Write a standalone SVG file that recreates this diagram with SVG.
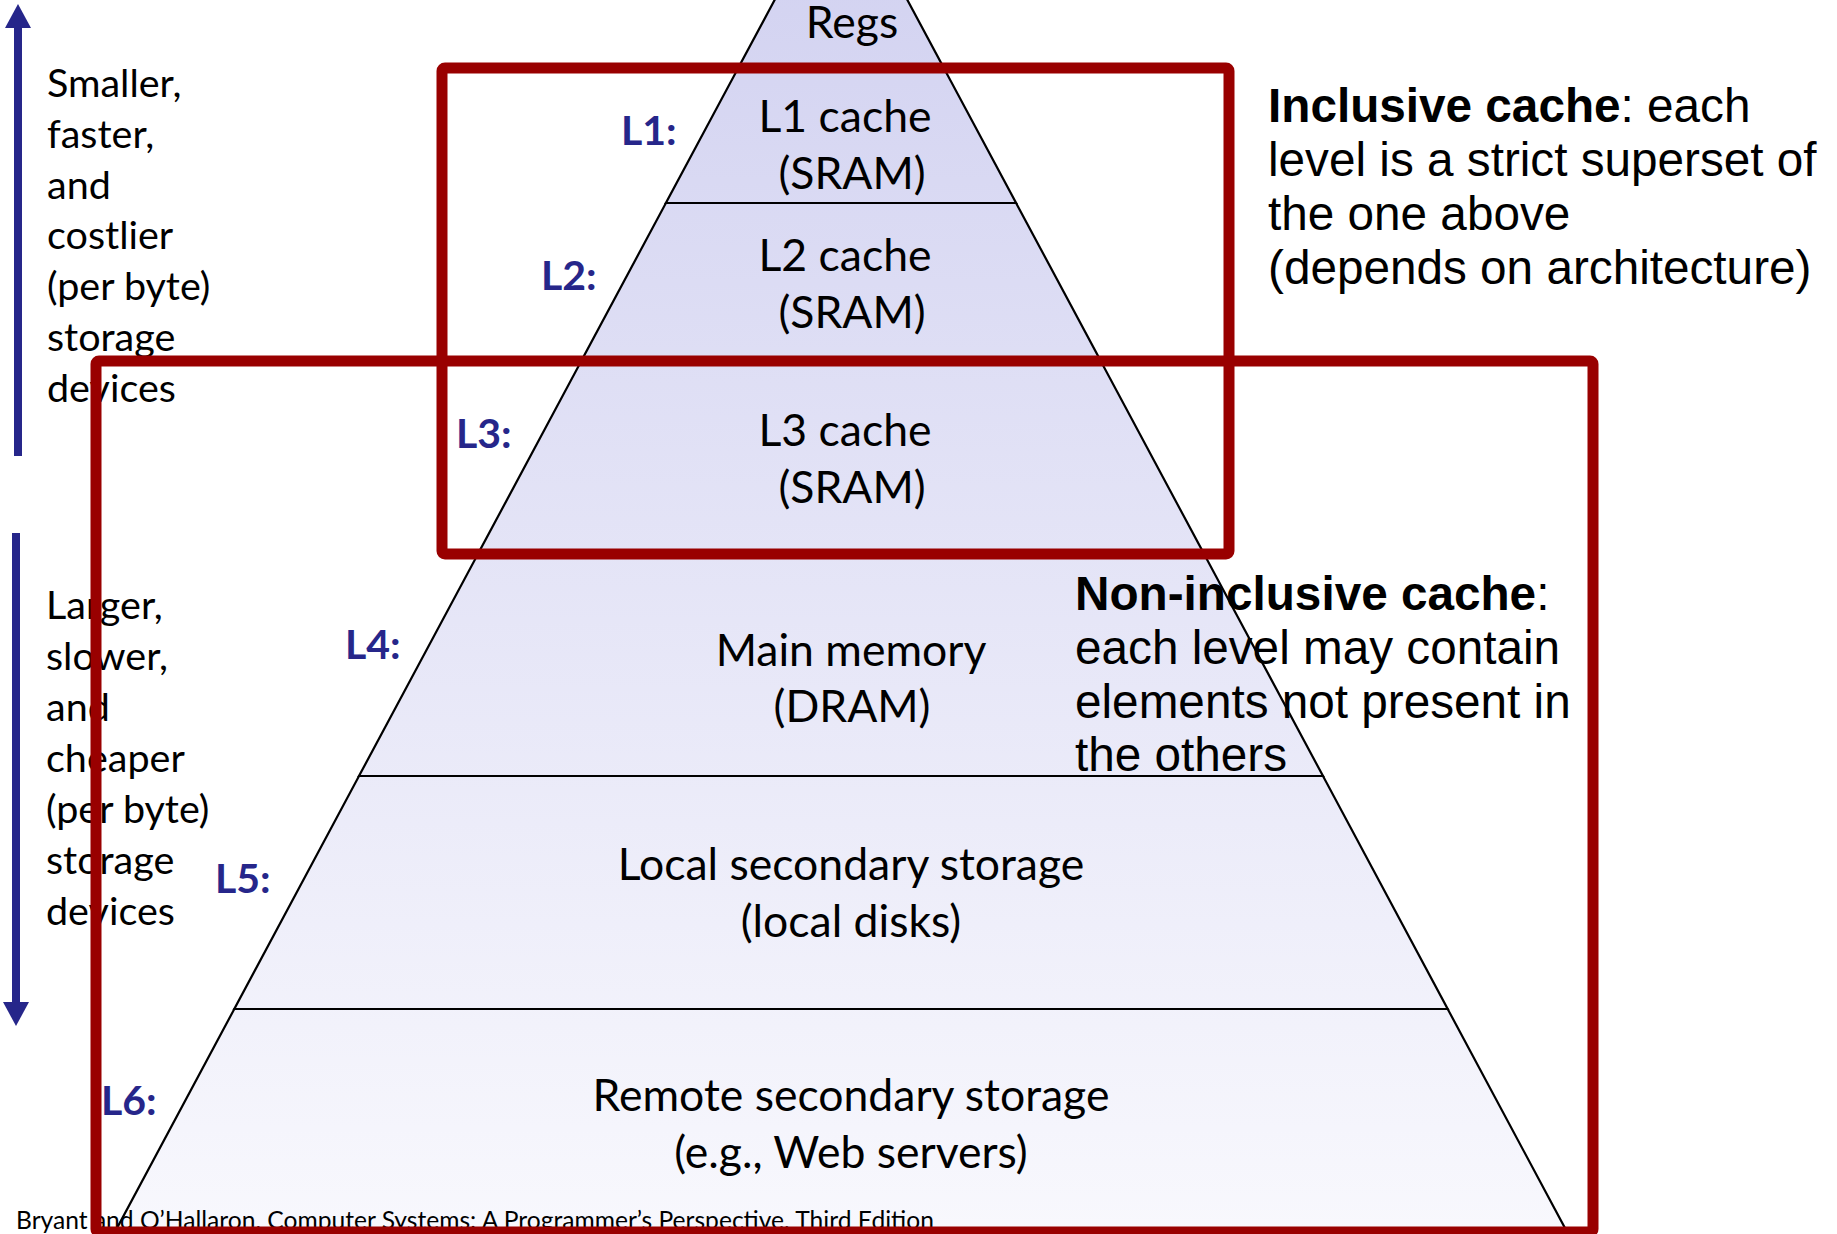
<svg xmlns="http://www.w3.org/2000/svg" width="1837" height="1234" viewBox="0 0 1837 1234">
<style>
.lvl{fill:url(#pg);stroke:#000;stroke-width:2.2}
.lt{font-family:Lato,"Open Sans",sans-serif;font-size:44.5px;fill:#000;text-anchor:middle}
.lab{font-family:Lato,"Open Sans",sans-serif;font-size:41px;font-weight:bold;fill:#26268A}
.side{font-family:Lato,"Open Sans",sans-serif;font-size:39.5px;fill:#000}
.note{font-family:"Liberation Sans",Arial,sans-serif;font-size:47.7px;fill:#000}
.foot{font-family:Lato,"Open Sans",sans-serif;font-size:24.6px;fill:#000}
.red{fill:none;stroke:#990000;stroke-width:11}
.arr{stroke:#26268A;stroke-width:8;fill:none}
</style>
<defs>
<linearGradient id="pg" gradientUnits="userSpaceOnUse" x1="0" y1="-124" x2="0" y2="1230">
<stop offset="0" stop-color="#D0D0F0"/>
<stop offset="1" stop-color="#F8F8FD"/>
</linearGradient>
</defs>
<rect width="1837" height="1234" fill="#fff"/>
<g id="regs"><polygon class="lvl" points="841,-124 943.8,68 738.2,68"/><text class="lt" x="852" y="38">Regs</text></g>
<g id="l1"><polygon class="lvl" points="738.2,68 943.8,68 1016.1,203 665.9,203"/><text class="lt" x="845" y="132">L1 cache</text><text class="lt" x="852" y="189">(SRAM)</text><text class="lab" x="621" y="145">L1:</text></g>
<g id="l2"><polygon class="lvl" points="665.9,203 1016.1,203 1100.2,360 581.8,360"/><text class="lt" x="845" y="271">L2 cache</text><text class="lt" x="852" y="328">(SRAM)</text><text class="lab" x="541" y="290">L2:</text></g>
<g id="l3"><polygon class="lvl" points="581.8,360 1100.2,360 1203,552 479,552"/><text class="lt" x="845" y="446">L3 cache</text><text class="lt" x="852" y="503">(SRAM)</text><text class="lab" x="456" y="448">L3:</text></g>
<g id="l4"><polygon class="lvl" points="479,552 1203,552 1323,776 359,776"/><text class="lt" x="851" y="666">Main memory</text><text class="lt" x="852" y="722">(DRAM)</text><text class="lab" x="345" y="659">L4:</text></g>
<g id="l5"><polygon class="lvl" points="359,776 1323,776 1447.7,1009 234.3,1009"/><text class="lt" x="851" y="880">Local secondary storage</text><text class="lt" x="851" y="937">(local disks)</text><text class="lab" x="215" y="893">L5:</text></g>
<g id="l6"><polygon class="lvl" points="234.3,1009 1447.7,1009 1566,1230 116,1230"/><text class="lt" x="851" y="1111">Remote secondary storage</text><text class="lt" x="851" y="1168">(e.g., Web servers)</text><text class="lab" x="101" y="1115">L6:</text></g>
<g id="side-top">
<line class="arr" x1="18" y1="456" x2="18" y2="26"/>
<polygon points="5,28 31,28 18,4" fill="#26268A"/>
<text class="side"><tspan x="47" y="97">Smaller,</tspan><tspan x="47" y="148">faster,</tspan><tspan x="47" y="199">and</tspan><tspan x="47" y="249">costlier</tspan><tspan x="47" y="300">(per byte)</tspan><tspan x="47" y="351">storage</tspan><tspan x="47" y="402">devices</tspan></text>
</g>
<g id="side-bottom">
<line class="arr" x1="16" y1="533" x2="16" y2="1004"/>
<polygon points="3,1002 29,1002 16,1026" fill="#26268A"/>
<text class="side"><tspan x="46" y="619">Larger,</tspan><tspan x="46" y="670">slower,</tspan><tspan x="46" y="721">and</tspan><tspan x="46" y="772">cheaper</tspan><tspan x="46" y="823">(per byte)</tspan><tspan x="46" y="874">storage</tspan><tspan x="46" y="925">devices</tspan></text>
</g>
<g id="inclusive-note">
<text class="note"><tspan x="1268" y="122"><tspan font-weight="bold">Inclusive cache</tspan>: each</tspan><tspan x="1268" y="176">level is a strict superset of</tspan><tspan x="1268" y="230">the one above</tspan><tspan x="1268" y="284">(depends on architecture)</tspan></text>
</g>
<g id="noninclusive-note">
<text class="note"><tspan x="1075" y="610"><tspan font-weight="bold">Non-inclusive cache</tspan>:</tspan><tspan x="1075" y="664">each level may contain</tspan><tspan x="1075" y="718">elements not present in</tspan><tspan x="1075" y="771">the others</tspan></text>
</g>
<text class="foot" x="16" y="1229">Bryant and O’Hallaron, Computer Systems: A Programmer’s Perspective, Third Edition</text>
<g id="connectors">
<rect id="inclusive-box" class="red" x="442" y="68" width="787" height="486" rx="3"/>
<rect id="noninclusive-box" class="red" x="96" y="361" width="1497" height="871" rx="3"/>
</g>
</svg>
